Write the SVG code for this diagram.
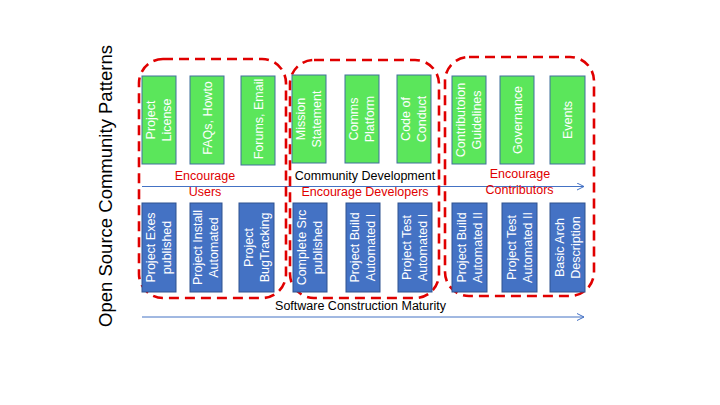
<svg xmlns="http://www.w3.org/2000/svg" width="720" height="405" viewBox="0 0 720 405">
<defs>
<style>
.g{fill:#5BE65B;stroke:#41719C;stroke-width:1}
.b{fill:#4472C4;stroke:#2F528F;stroke-width:1}
.t{font-family:"Liberation Sans",Arial,sans-serif;font-size:12.5px;fill:#ffffff;text-anchor:middle}
.grp{fill:none;stroke:#E00000;stroke-width:2.6;stroke-dasharray:10 6}
.lbl{font-family:"Liberation Sans",Arial,sans-serif;font-size:12.5px;text-anchor:middle}
.red{fill:#E00000}
.blk{fill:#000000}
.arr{stroke:#4472C4;stroke-width:1;fill:none}
</style>
<marker id="ah" markerWidth="10" markerHeight="10" refX="8" refY="4" orient="auto" markerUnits="userSpaceOnUse">
<path d="M1,0.5 L8,4 L1,7.5" fill="none" stroke="#4472C4" stroke-width="1"/>
</marker>
</defs>
<rect width="720" height="405" fill="#ffffff"/>

<text transform="translate(112,186) rotate(-90)" font-family="Liberation Sans,Arial,sans-serif" font-size="18.5" fill="#000" text-anchor="middle" textLength="282" lengthAdjust="spacing">Open Source Community Patterns</text>

<g id="connectors">
<line class="arr" x1="142" y1="186.5" x2="584" y2="186.5" marker-end="url(#ah)"/>
<line class="arr" x1="142" y1="317" x2="584" y2="317" marker-end="url(#ah)"/>
</g>

<g id="groups">
<rect id="grp-users" class="grp" x="139" y="59" width="147" height="239" rx="24"/>
<rect id="grp-devs" class="grp" x="290" y="60" width="149" height="238" rx="24"/>
<rect id="grp-contrib" class="grp" x="445" y="57" width="149" height="239" rx="24"/>
</g>

<g id="n1"><rect class="g" x="142" y="76" width="34" height="88"/><text class="t" transform="translate(159,120) rotate(-90)"><tspan x="0" y="-4">Project</tspan><tspan x="0" y="12">License</tspan></text></g>
<g id="n2"><rect class="g" x="190" y="76" width="34" height="88"/><text class="t" transform="translate(207,118) rotate(-90)"><tspan x="0" y="4.5">FAQs, Howto</tspan></text></g>
<g id="n3"><rect class="g" x="241" y="76" width="34" height="89"/><text class="t" transform="translate(258,119) rotate(-90)"><tspan x="0" y="4.5">Forums, Email</tspan></text></g>
<g id="n4"><rect class="g" x="292" y="75" width="34" height="88"/><text class="t" transform="translate(309,119) rotate(-90)"><tspan x="0" y="-4">Mission</tspan><tspan x="0" y="12">Statement</tspan></text></g>
<g id="n5"><rect class="g" x="345" y="75" width="34" height="88"/><text class="t" transform="translate(362,119) rotate(-90)"><tspan x="0" y="-4">Comms</tspan><tspan x="0" y="12">Platform</tspan></text></g>
<g id="n6"><rect class="g" x="397" y="75" width="34" height="88"/><text class="t" transform="translate(414,119) rotate(-90)"><tspan x="0" y="-4">Code of</tspan><tspan x="0" y="12">Conduct</tspan></text></g>
<g id="n7"><rect class="g" x="452" y="76" width="34" height="88"/><text class="t" transform="translate(469,120) rotate(-90)"><tspan x="0" y="-4">Contributoion</tspan><tspan x="0" y="12">Guidelines</tspan></text></g>
<g id="n8"><rect class="g" x="500" y="76" width="34" height="88"/><text class="t" transform="translate(517,120) rotate(-90)"><tspan x="0" y="4.5">Governance</tspan></text></g>
<g id="n9"><rect class="g" x="550" y="76" width="35" height="88"/><text class="t" transform="translate(567.5,120) rotate(-90)"><tspan x="0" y="4.5">Events</tspan></text></g>

<g id="m1"><rect class="b" x="142" y="203" width="34" height="89"/><text class="t" transform="translate(159,247.5) rotate(-90)"><tspan x="0" y="-4">Project Exes</tspan><tspan x="0" y="12">published</tspan></text></g>
<g id="m2"><rect class="b" x="190" y="203" width="32" height="89"/><text class="t" transform="translate(206,247.5) rotate(-90)"><tspan x="0" y="-4">Project Install</tspan><tspan x="0" y="12">Automated</tspan></text></g>
<g id="m3"><rect class="b" x="239" y="203" width="35" height="89"/><text class="t" transform="translate(256.5,247.5) rotate(-90)"><tspan x="0" y="-4">Project</tspan><tspan x="0" y="12">BugTracking</tspan></text></g>
<g id="m4"><rect class="b" x="293" y="203" width="34" height="89"/><text class="t" transform="translate(310,247.5) rotate(-90)"><tspan x="0" y="-4">Complete Src</tspan><tspan x="0" y="12">published</tspan></text></g>
<g id="m5"><rect class="b" x="346" y="203" width="34" height="89"/><text class="t" transform="translate(363,247.5) rotate(-90)"><tspan x="0" y="-4">Project Build</tspan><tspan x="0" y="12">Automated I</tspan></text></g>
<g id="m6"><rect class="b" x="398" y="203" width="34" height="89"/><text class="t" transform="translate(415,247.5) rotate(-90)"><tspan x="0" y="-4">Project Test</tspan><tspan x="0" y="12">Automated I</tspan></text></g>
<g id="m7"><rect class="b" x="452" y="203" width="35" height="89"/><text class="t" transform="translate(469.5,247.5) rotate(-90)"><tspan x="0" y="-4">Project Build</tspan><tspan x="0" y="12">Automated II</tspan></text></g>
<g id="m8"><rect class="b" x="502" y="203" width="35" height="89"/><text class="t" transform="translate(519.5,247.5) rotate(-90)"><tspan x="0" y="-4">Project Test</tspan><tspan x="0" y="12">Automated II</tspan></text></g>
<g id="m9"><rect class="b" x="550" y="203" width="35" height="89"/><text class="t" transform="translate(567.5,247.5) rotate(-90)"><tspan x="0" y="-4">Basic Arch</tspan><tspan x="0" y="12">Description</tspan></text></g>

<g id="labels">
<text class="lbl red" x="205" y="180">Encourage</text>
<text class="lbl red" x="205" y="196">Users</text>
<text class="lbl blk" x="365" y="180">Community Development</text>
<text class="lbl red" x="365" y="196">Encourage Developers</text>
<text class="lbl red" x="520" y="178">Encourage</text>
<text class="lbl red" x="519.5" y="194">Contributors</text>
<text class="lbl blk" x="360.5" y="310">Software Construction Maturity</text>
</g>
</svg>
